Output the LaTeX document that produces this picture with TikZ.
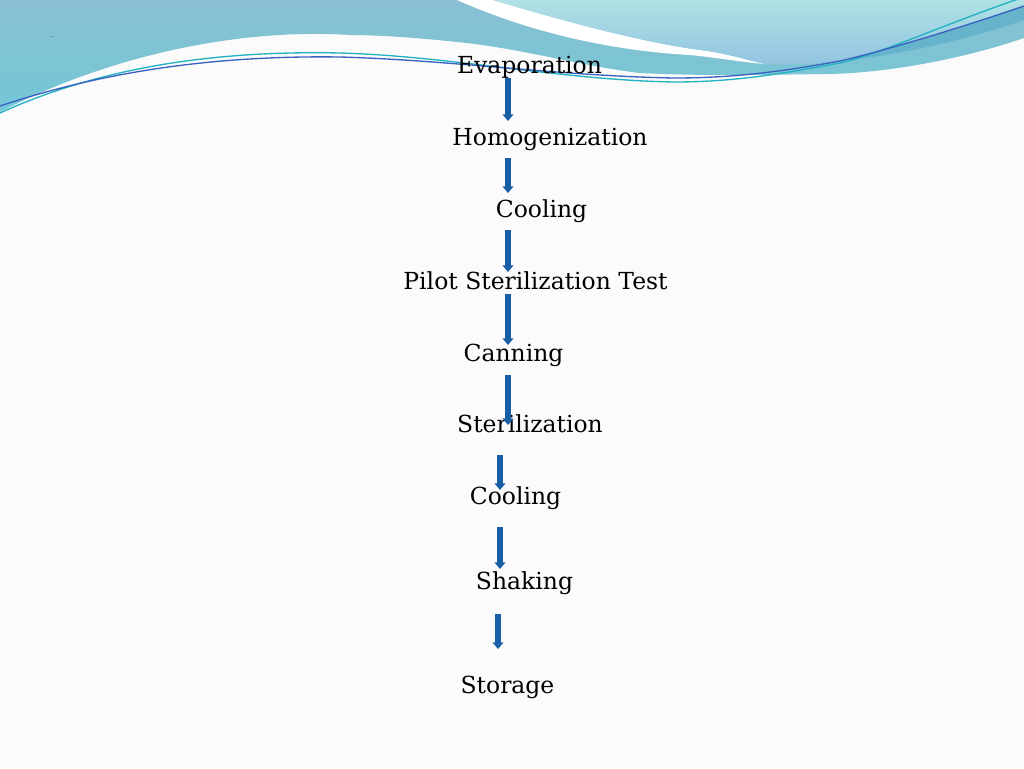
\documentclass[tikz,border=0pt]{standalone}
\usepackage{fontspec}
\setmainfont{DejaVu Serif}
\usetikzlibrary{arrows.meta}
\definecolor{arrowblue}{HTML}{1B5EA8}
\definecolor{lineteal}{HTML}{22B2C2}
\definecolor{lineblue}{HTML}{3A62C0}
\definecolor{leftTop}{RGB}{136,191,210}
\definecolor{leftBot}{RGB}{115,200,214}
\definecolor{rightTop}{RGB}{176,225,228}
\definecolor{rightBot}{RGB}{146,196,226}
\definecolor{darkBand}{RGB}{102,180,204}
\definecolor{bgwhite}{RGB}{251,251,251}
\tikzset{
  steplabel/.style={anchor=base, inner sep=0pt, font=\fontsize{17.6pt}{20pt}\selectfont, text=black},
  flowarrow/.style={draw=arrowblue, line width=5pt, -{Triangle[width=8pt,length=5pt]}},
}
\begin{document}
\begin{tikzpicture}[x=0.75pt,y=-0.75pt]
\useasboundingbox (0,0) rectangle (1024,768);
\fill[bgwhite] (0,0) rectangle (1024,768);
% left/medium blue region
\shade[top color=leftTop, bottom color=leftBot]
  (0,0) -- (1024,0) -- (1024,38) .. controls (960,60) and (880,74) .. (824,74)
  .. controls (760,75) and (700,76) .. (640,73)
  .. controls (580,66) and (520,48) .. (457,42)
  .. controls (420,38) and (380,35) .. (350,35)
  .. controls (240,28) and (110,55) .. (0,112) -- cycle;
% white swoosh
\fill[white]
  (457,0) .. controls (520,28) and (600,50) .. (690,55) .. controls (720,58) and (740,62) .. (765,64)
  .. controls (740,58) and (720,52) .. (700,50) .. controls (640,42) and (560,20) .. (493,0) -- cycle;
% right light region
\shade[top color=rightTop, bottom color=rightBot]
  (493,0) .. controls (560,20) and (640,42) .. (700,50) .. controls (720,52) and (740,58) .. (765,64)
  .. controls (785,65) and (810,65) .. (840,60) .. controls (880,52) and (960,28) .. (1024,6)
  -- (1024,0) -- cycle;
% darker band at right
\fill[darkBand]
  (850,58) .. controls (885,51) and (960,28) .. (1024,6) -- (1024,20)
  .. controls (990,32) and (930,50) .. (850,60) -- cycle;
% thin lines
\draw[lineteal, line width=1pt]
  (0,113) .. controls (90,72) and (200,50) .. (340,53) .. controls (450,56) and (560,80) .. (674,82)
  .. controls (740,82) and (790,72) .. (840,63) .. controls (880,54) and (950,22) .. (1024,-3);
\draw[lineblue, line width=1pt]
  (0,106) .. controls (90,76) and (200,55) .. (340,57) .. controls (450,60) and (560,76) .. (674,78)
  .. controls (740,78) and (790,70) .. (840,61) .. controls (880,52) and (960,28) .. (1024,6);
\node[inner sep=0pt, font=\tiny] (dot) at (52,37) {.};
% labels
\node[steplabel] (n1) at (529.5,73) {Evaporation};
\node[steplabel] (n2) at (550,145) {Homogenization};
\node[steplabel] (n3) at (541.5,217) {Cooling};
\node[steplabel] (n4) at (535.5,289) {Pilot Sterilization Test};
\node[steplabel] (n5) at (513.5,361) {Canning};
\node[steplabel] (n6) at (530,432) {Sterilization};
\node[steplabel] (n7) at (515.5,504) {Cooling};
\node[steplabel] (n8) at (524.5,589) {Shaking};
\node[steplabel] (n9) at (507.5,693) {Storage};
% arrow endpoints
\coordinate (a1s) at (508,78);  \coordinate (a1e) at (508,121);
\coordinate (a2s) at (508,158); \coordinate (a2e) at (508,193);
\coordinate (a3s) at (508,230); \coordinate (a3e) at (508,272);
\coordinate (a4s) at (508,294); \coordinate (a4e) at (508,345);
\coordinate (a5s) at (508,375); \coordinate (a5e) at (508,425);
\coordinate (a6s) at (500,455); \coordinate (a6e) at (500,490);
\coordinate (a7s) at (500,527); \coordinate (a7e) at (500,569);
\coordinate (a8s) at (498,614); \coordinate (a8e) at (498,649);
\foreach \i in {1,...,8} \draw[flowarrow] (a\i s) -- (a\i e);
\end{tikzpicture}
\end{document}
